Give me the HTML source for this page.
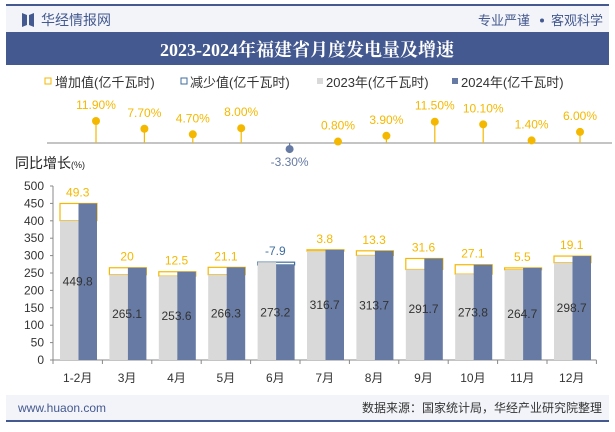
<!DOCTYPE html>
<html><head><meta charset="utf-8"><style>
body{margin:0;width:615px;height:427px;overflow:hidden;background:#fff;font-family:"Liberation Sans","Noto Sans CJK SC",sans-serif;}
</style></head><body>
<svg id="c" width="615" height="427" xmlns="http://www.w3.org/2000/svg" style="font-family:'Liberation Sans','Noto Sans CJK SC',sans-serif">
<rect x="6" y="4" width="603" height="2" fill="#44598f"/>
<rect x="6" y="6" width="603" height="26" fill="#f2f4f9"/>
<path d="M22 13 L27 15 L27 25 L22 27 Z M29 15 L34 13 L34 27 L29 25 Z" fill="#44598f"/>
<text x="41" y="25" font-size="14" fill="#44598f">华经情报网</text>
<text x="478" y="25" font-size="13" fill="#44598f">专业严谨</text>
<circle cx="542" cy="20.5" r="2" fill="#44598f"/>
<text x="551" y="25" font-size="13" fill="#44598f">客观科学</text>
<rect x="6" y="32" width="603" height="33" fill="#44598f"/>
<text x="307" y="56" font-size="18" font-weight="bold" fill="#fff" text-anchor="middle" font-family="'Liberation Serif','Noto Serif CJK SC',serif">2023-2024年福建省月度发电量及增速</text>
<g font-size="13" fill="#333">
<rect x="45" y="78" width="6" height="6" fill="none" stroke="#f5b800"/>
<text x="55" y="87">增加值(亿千瓦时)</text>
<rect x="181" y="78" width="6" height="6" fill="none" stroke="#3e6e9e"/>
<text x="190" y="87">减少值(亿千瓦时)</text>
<rect x="317" y="78" width="6" height="6" fill="#d9d9d9"/>
<text x="326" y="87">2023年(亿千瓦时)</text>
<rect x="452" y="78" width="6" height="6" fill="#667aa3"/>
<text x="461" y="87">2024年(亿千瓦时)</text>
</g>
<line x1="47" y1="143" x2="612" y2="143" stroke="#888"/>
<text x="15" y="168" font-size="14" fill="#222">同比增长<tspan font-size="9">(%)</tspan></text>
<g id="ax" font-size="12" fill="#333"></g>
<g id="marks"></g>
<rect x="6" y="395" width="603" height="25" fill="#f2f4f9"/>
<rect x="6" y="420" width="603" height="2" fill="#44598f"/>
<text x="18" y="412" font-size="12" fill="#44598f">www.huaon.com</text>
<text x="602" y="412" font-size="12" fill="#333" text-anchor="end">数据来源：国家统计局，华经产业研究院整理</text>
</svg>
<script>
const categories=["1-2月","3月","4月","5月","6月","7月","8月","9月","10月","11月","12月"];
const values2024=[449.8,265.1,253.6,266.3,273.2,316.7,313.7,291.7,273.8,264.7,298.7];
const changes=[49.3,20,12.5,21.1,-7.9,3.8,13.3,31.6,27.1,5.5,19.1];
const growth=[11.9,7.7,4.7,8.0,-3.3,0.8,3.9,11.5,10.1,1.4,6.0];
const yTicks=[0,50,100,150,200,250,300,350,400,450,500];
const NS="http://www.w3.org/2000/svg";
const x0=53,step=49.4,yBase=360,yScale=174/500;
const y=v=>yBase-v*yScale;
const cx=i=>x0+step*(i+0.5);
const gx=i=>96+48.4*i;
const gy=g=>143-g*1.85;
function mk(tag,attrs,parent,text){const e=document.createElementNS(NS,tag);for(const k in attrs)e.setAttribute(k,attrs[k]);if(text!==undefined)e.textContent=text;parent.appendChild(e);return e;}
const ax=document.getElementById('ax'),m=document.getElementById('marks');
let l=mk('line',{x1:x0,y1:186,x2:x0,y2:yBase,stroke:'#888'},ax);


l=mk('line',{x1:x0,y1:yBase,x2:x0+step*categories.length,y2:yBase,stroke:'#888'},ax);


yTicks.forEach(t=>{
 const e=mk('text',{x:44,y:y(t)+4,'text-anchor':'end'},ax,t);
 
 
 const k=mk('line',{x1:x0-3,y1:y(t),x2:x0,y2:y(t),stroke:'#888'},ax);
 
 
});
categories.forEach((c,i)=>{
 const k=mk('line',{x1:x0+step*i,y1:yBase,x2:x0+step*i,y2:yBase+4,stroke:'#888'},ax);
 
 
 const e=mk('text',{x:cx(i),y:yBase+22,'text-anchor':'middle'},ax,c);
 
 
});
const k2=mk('line',{x1:x0+step*categories.length,y1:yBase,x2:x0+step*categories.length,y2:yBase+4,stroke:'#888'},ax);


values2024.forEach((v,i)=>{
 const ch=changes[i],v23=v-ch,left=x0+step*i+7,w=18.5;
 const col=ch>=0?'#f5b800':'#3e6e9e';
 const top=Math.max(v,v23),bot=Math.min(v,v23);
 const box=mk('rect',{x:left,y:y(top),width:2*w,height:y(bot)-y(top),fill:'none',stroke:col,'stroke-width':1.2},m);
 
 
 const b1=mk('rect',{x:left,y:y(v23),width:w,height:yBase-y(v23),fill:'#d9d9d9'},m);
 
 
 const b2=mk('rect',{x:left+w,y:y(v),width:w,height:yBase-y(v),fill:'#667aa3'},m);
 
 
 const cl=mk('text',{x:cx(i),y:y(top)-7,'text-anchor':'middle','font-size':12,fill:col},m,ch);
 
 
 const vl=mk('text',{x:cx(i),y:(y(v)+yBase)/2+4,'text-anchor':'middle','font-size':12,fill:'#333'},m,v);
 
 
 const g=growth[i],gc=g>=0?'#f5b800':'#667aa3';
 const st=mk('line',{x1:gx(i),y1:143,x2:gx(i),y2:gy(g),stroke:gc,'stroke-width':1.2},m);
 
 
 const dt=mk('circle',{cx:gx(i),cy:gy(g),r:4,fill:gc},m);
 
 
 const gl=mk('text',{x:gx(i),y:g>=0?gy(g)-12:gy(g)+17,'text-anchor':'middle','font-size':12,fill:gc},m,g.toFixed(2)+'%');
 
 
});
</script>
</body></html>
